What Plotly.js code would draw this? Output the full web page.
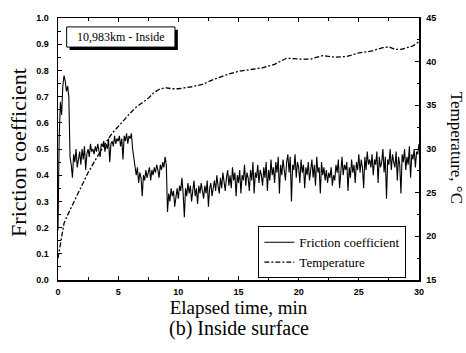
<!DOCTYPE html>
<html>
<head>
<meta charset="utf-8">
<script src="https://cdn.plot.ly/plotly-3.0.1.min.js"></script>
<style>html,body{margin:0;padding:0;background:#fff;}#chart{width:466px;height:353px;}</style>
</head>
<body>
<div id="chart"></div>
<script>
// Friction coefficient sampled every 0.1 min from 0 to 30 min
const frictionStart = 0;
const frictionStep = 0.1;
const friction = [
  0.19,0.55,0.68,0.63,0.74,0.78,0.76,0.72,0.74,0.70,
  0.47,0.44,0.39,0.48,0.45,0.50,0.43,0.47,0.49,0.44,
  0.50,0.46,0.51,0.42,0.48,0.50,0.47,0.52,0.49,0.50,
  0.48,0.51,0.49,0.52,0.50,0.47,0.52,0.51,0.53,0.49,
  0.52,0.50,0.54,0.45,0.52,0.53,0.51,0.55,0.52,0.54,
  0.53,0.55,0.51,0.54,0.46,0.55,0.53,0.56,0.52,0.55,
  0.54,0.56,0.50,0.47,0.44,0.40,0.43,0.37,0.41,0.39,
  0.32,0.40,0.38,0.42,0.39,0.41,0.43,0.38,0.42,0.40,
  0.43,0.41,0.44,0.42,0.39,0.44,0.42,0.45,0.43,0.47,
  0.44,0.26,0.33,0.30,0.35,0.32,0.34,0.28,0.33,0.35,
  0.31,0.36,0.34,0.39,0.33,0.24,0.35,0.32,0.37,0.33,
  0.36,0.30,0.34,0.38,0.32,0.35,0.29,0.36,0.33,0.37,
  0.34,0.31,0.36,0.33,0.38,0.28,0.35,0.37,0.32,0.36,
  0.38,0.34,0.40,0.36,0.33,0.39,0.35,0.41,0.37,0.34,
  0.39,0.42,0.36,0.40,0.35,0.43,0.38,0.41,0.32,0.40,
  0.37,0.42,0.33,0.40,0.38,0.44,0.36,0.41,0.39,0.34,
  0.42,0.38,0.45,0.33,0.41,0.39,0.44,0.37,0.42,0.40,
  0.36,0.43,0.39,0.45,0.34,0.42,0.38,0.46,0.40,0.43,
  0.37,0.45,0.41,0.47,0.33,0.44,0.40,0.46,0.42,0.38,
  0.45,0.48,0.41,0.47,0.30,0.44,0.42,0.48,0.39,0.45,
  0.43,0.37,0.46,0.41,0.44,0.35,0.43,0.40,0.45,0.38,
  0.42,0.46,0.39,0.44,0.36,0.47,0.41,0.43,0.33,0.45,
  0.40,0.43,0.38,0.42,0.37,0.41,0.39,0.43,0.36,0.40,
  0.38,0.44,0.41,0.46,0.35,0.43,0.47,0.40,0.44,0.42,
  0.45,0.34,0.43,0.39,0.46,0.41,0.44,0.37,0.45,0.42,
  0.48,0.41,0.46,0.43,0.35,0.47,0.42,0.49,0.44,0.46,
  0.43,0.48,0.40,0.46,0.44,0.49,0.37,0.47,0.43,0.45,
  0.50,0.41,0.47,0.31,0.46,0.44,0.50,0.42,0.48,0.45,
  0.43,0.49,0.38,0.47,0.44,0.33,0.48,0.45,0.50,0.42,
  0.47,0.44,0.51,0.39,0.48,0.46,0.50,0.43,0.49,0.48,
  0.52
];

// Temperature (°C) vs time (min)
const tempTime = [0,0.25,0.5,0.75,1,1.5,2,2.5,3,3.5,4,4.5,5,5.5,6,6.5,7,7.5,8,8.5,9,9.5,10,11,12,13,14,15,16,17,18,19,20,21,22,23,24,25,26,27,27.5,28,28.5,29,29.5,30];
const temperature = [17.5,19.5,21.5,22.3,23.0,24.6,25.9,27.3,28.5,29.7,30.8,31.8,32.6,33.4,34.1,34.8,35.3,35.8,36.5,36.9,37.0,36.9,36.9,37.1,37.4,38.0,38.5,38.9,39.1,39.3,39.7,40.4,40.3,40.3,40.7,40.5,40.6,41.0,41.2,41.6,41.7,41.4,41.4,41.6,41.8,42.3];

const xTicks = [0,5,10,15,20,25,30];
const yTicks = [0.0,0.1,0.2,0.3,0.4,0.5,0.6,0.7,0.8,0.9,1.0];
const y2Ticks = [15,20,25,30,35,40,45];

const serif = "Liberation Serif, Times New Roman, serif";
const tickFont = {family: "Liberation Sans, Arial, sans-serif", size: 9, color: "#000", weight: "bold"};

const traces = [
  {
    type: "scatter", mode: "lines", name: "Friction coefficient",
    x0: frictionStart, dx: frictionStep, y: friction,
    line: {color: "#000", width: 1.1}, xaxis: "x", yaxis: "y"
  },
  {
    type: "scatter", mode: "lines", name: "Temperature",
    x: tempTime, y: temperature,
    line: {color: "#000", width: 1.3, dash: "5px,2px,2px,2px"}, xaxis: "x", yaxis: "y2"
  }
];

const layout = {
  width: 466, height: 353,
  margin: {l: 58, r: 47, t: 18, b: 73, pad: 0},
  paper_bgcolor: "#fff", plot_bgcolor: "#fff",
  showlegend: true,
  legend: {
    x: 0.555, y: 0.205, xanchor: "left", yanchor: "top",
    bordercolor: "#000", borderwidth: 1, bgcolor: "#fff",
    font: {family: serif, size: 13, color: "#000"},
    itemwidth: 30, tracegroupgap: 0
  },
  xaxis: {
    range: [0, 30], tickvals: xTicks, ticktext: xTicks.map(String),
    ticks: "inside", ticklen: 4, tickwidth: 1, tickcolor: "#000",
    minor: {dtick: 2.5, ticks: "inside", ticklen: 3, tickcolor: "#000", tickwidth: 1},
    showline: true, linewidth: 1.5, linecolor: "#000", mirror: "ticks",
    showgrid: false, zeroline: false, tickfont: tickFont, ticklabelstandoff: 3,
    title: {text: "Elapsed time, min", font: {family: serif, size: 19, color: "#000"}, standoff: 1}
  },
  yaxis: {
    range: [0, 1.0], tickvals: yTicks, ticktext: yTicks.map(v => v.toFixed(1)),
    ticks: "inside", ticklen: 4, tickwidth: 1, tickcolor: "#000",
    minor: {dtick: 0.05, ticks: "inside", ticklen: 2.5, tickcolor: "#000", tickwidth: 1},
    showline: true, linewidth: 1.5, linecolor: "#000", mirror: false,
    showgrid: false, zeroline: false, tickfont: tickFont, ticklabelstandoff: 6
  },
  yaxis2: {
    range: [15, 45], tickvals: y2Ticks, ticktext: y2Ticks.map(String),
    overlaying: "y", side: "right",
    ticks: "inside", ticklen: 4, tickwidth: 1, tickcolor: "#000",
    minor: {dtick: 2.5, ticks: "inside", ticklen: 2.5, tickcolor: "#000", tickwidth: 1},
    showline: true, linewidth: 1.5, linecolor: "#000",
    showgrid: false, zeroline: false, tickfont: tickFont, ticklabelstandoff: 4
  },
  shapes: [
    {type: "rect", xref: "paper", yref: "paper", layer: "above",
     x0: 0.032, x1: 0.332, y0: 0.878, y1: 0.955,
     fillcolor: "#000", line: {width: 0}},
    {type: "rect", xref: "paper", yref: "paper", layer: "above",
     x0: 0.024, x1: 0.324, y0: 0.889, y1: 0.966,
     fillcolor: "#fff", line: {color: "#000", width: 1}}
  ],
  annotations: [
    {text: "10,983km - Inside", xref: "paper", yref: "paper", x: 0.174, y: 0.9275,
     xanchor: "center", yanchor: "middle", showarrow: false,
     font: {family: serif, size: 12, color: "#000"}},
    {text: "Friction coefficient", xref: "paper", yref: "paper", x: 0, y: 0.485,
     xanchor: "center", yanchor: "middle", xshift: -39, textangle: -90, showarrow: false,
     font: {family: serif, size: 22, color: "#000"}},
    {text: "Temperature, °C", xref: "paper", yref: "paper", x: 1.0, y: 0.505,
     xanchor: "center", yanchor: "middle", xshift: 37, textangle: 90, showarrow: false,
     font: {family: serif, size: 17, color: "#000"}},
    {text: "(b) Inside surface", xref: "paper", yref: "paper", x: 0.5, y: 0, yshift: -48,
     xanchor: "center", yanchor: "middle", showarrow: false,
     font: {family: serif, size: 20, color: "#000"}},
    {text: "(a) Outside surface", xref: "paper", yref: "paper", x: 0.5, y: 1, yshift: 16,
     xanchor: "center", yanchor: "bottom", showarrow: false,
     font: {family: serif, size: 22, color: "#000"}}
  ]
};

Plotly.newPlot("chart", traces, layout, {displayModeBar: false, staticPlot: true});
</script>
</body>
</html>
